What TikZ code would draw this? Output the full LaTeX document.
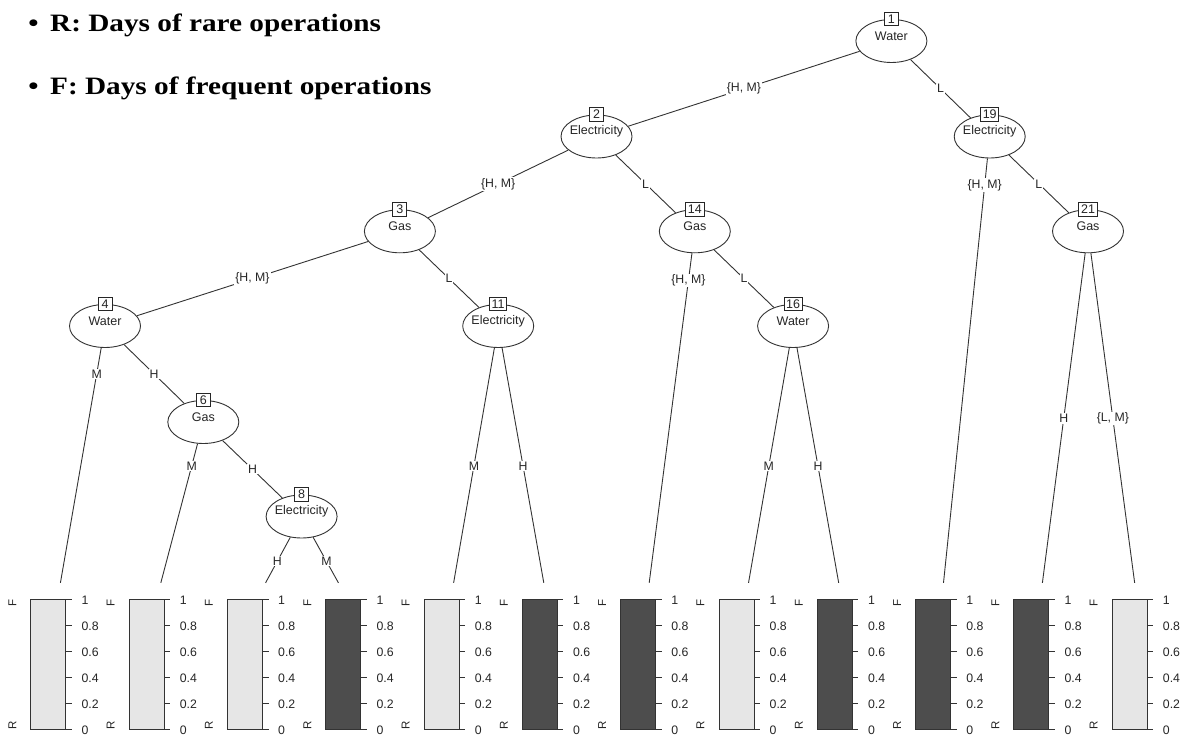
\documentclass[tikz,border=0pt]{standalone}
\usepackage{fontspec}
\setmainfont{Liberation Serif}
\setsansfont{Liberation Sans}
\usetikzlibrary{shapes.geometric,calc}

\newcommand\tnode[5]{%
  \node[ell] (#1) at (#2,#3) {};
  \node[vtxt] (#1t) at ([yshift=5pt]#1.center) {#4};
  \node[nbox] (#1b) at (#1.north) {#5};}
\newcommand\tedge[4]{%
  \draw[eline] (#1) -- (#2);
  \path (#1.center) -- (#2.center) node[elab,pos=#3] (#1-#2lab) {#4};}
\newcommand\leafpanel[3]{%
  \node[leafn] (#1) at (#2,606) {};
  \begin{scope}[shift={(#2,0)}]
    \draw[barln, fill=#3] (-25.5,599) rectangle (9.5,729);
    \foreach \yy/\lab [count=\i] in {599/1,625/0.8,651/0.6,677/0.4,703/0.2,729/0} {
      \draw[barln] (9.5,\yy) -- (15.5,\yy);
      \node[tlab] (#1-t\i) at (25,\yy+1) {\lab};
    }
    \node[rlab] (#1-F) at (-44,603) {F};
    \node[rlab] (#1-R) at (-44,725) {R};
  \end{scope}}

\begin{document}
\begin{tikzpicture}[x=1pt,y=-1pt,
  eline/.style={draw=black!80, line width=0.9pt},
  ell/.style={ellipse, draw=black!80, line width=0.9pt, fill=white, minimum width=71pt, minimum height=43pt, inner sep=0pt},
  vtxt/.style={font=\sffamily\fontsize{12.5}{14}\selectfont, text=black!85, inner sep=0pt},
  nbox/.style={draw=black!85, line width=0.9pt, fill=white, font=\sffamily\fontsize{12.5}{14}\selectfont, text=black!85, inner xsep=2.2pt, inner ysep=2pt, minimum width=14pt, text height=9pt, text depth=0.5pt},
  elab/.style={fill=white, font=\sffamily\fontsize{12.3}{14}\selectfont, inner xsep=1pt, inner ysep=1pt, text=black!85},
  leafn/.style={rectangle, minimum width=90pt, minimum height=46pt, inner sep=0pt},
  barln/.style={draw=black!80, line width=0.9pt},
  tlab/.style={anchor=west, inner sep=0pt, font=\sffamily\fontsize{12.3}{14}\selectfont, text=black!85},
  rlab/.style={rotate=90, inner sep=0pt, font=\sffamily\fontsize{11.5}{13}\selectfont, text=black!85},
  hdr/.style={inner sep=0pt, font=\bfseries\fontsize{25}{30}\selectfont}
]
\useasboundingbox[fill=white] (0,0) rectangle (1190,735);

% header
\node[hdr, anchor=base] (b1) at (33.4,31.7) {\scalebox{1.17}[1]{•}};
\node[hdr, anchor=base west] (h1) at (50,31.7) {\scalebox{1.17}[1]{R: Days of rare operations}};
\node[hdr, anchor=base] (b2) at (33.4,95) {\scalebox{1.17}[1]{•}};
\node[hdr, anchor=base west] (h2) at (50,95) {\scalebox{1.17}[1]{F: Days of frequent operations}};

% inner nodes
\tnode{n1}{891.4}{41}{Water}{1}
\tnode{n2}{596.5}{136.5}{Electricity}{2}
\tnode{n19}{989.7}{136.5}{Electricity}{19}
\tnode{n3}{399.9}{231.3}{Gas}{3}
\tnode{n14}{694.8}{231.3}{Gas}{14}
\tnode{n21}{1088}{231.3}{Gas}{21}
\tnode{n4}{105}{326}{Water}{4}
\tnode{n11}{498.2}{326}{Electricity}{11}
\tnode{n16}{793.1}{326}{Water}{16}
\tnode{n6}{203.3}{422}{Gas}{6}
\tnode{n8}{301.6}{516.5}{Electricity}{8}

% leaves
\definecolor{lightbar}{HTML}{E6E6E6}
\definecolor{darkbar}{HTML}{4D4D4D}
\leafpanel{l1}{56.4}{lightbar}
\leafpanel{l2}{154.7}{lightbar}
\leafpanel{l3}{253.0}{lightbar}
\leafpanel{l4}{351.3}{darkbar}
\leafpanel{l5}{449.6}{lightbar}
\leafpanel{l6}{547.9}{darkbar}
\leafpanel{l7}{646.2}{darkbar}
\leafpanel{l8}{744.5}{lightbar}
\leafpanel{l9}{842.8}{darkbar}
\leafpanel{l10}{941.1}{darkbar}
\leafpanel{l11}{1039.4}{darkbar}
\leafpanel{l12}{1137.7}{lightbar}

% edges
\tedge{n1}{n2}{0.5}{\{H, M\}}
\tedge{n1}{n19}{0.5}{L}
\tedge{n2}{n3}{0.5}{\{H, M\}}
\tedge{n2}{n14}{0.5}{L}
\tedge{n19}{l10}{0.103}{\{H, M\}}
\tedge{n19}{n21}{0.5}{L}
\tedge{n3}{n4}{0.5}{\{H, M\}}
\tedge{n3}{n11}{0.5}{L}
\tedge{n14}{l7}{0.131}{\{H, M\}}
\tedge{n14}{n16}{0.5}{L}
\tedge{n21}{l11}{0.5}{H}
\tedge{n21}{l12}{0.5}{\{L, M\}}
\tedge{n4}{l1}{0.171}{M}
\tedge{n4}{n6}{0.5}{H}
\tedge{n11}{l5}{0.5}{M}
\tedge{n11}{l6}{0.5}{H}
\tedge{n16}{l8}{0.5}{M}
\tedge{n16}{l9}{0.5}{H}
\tedge{n6}{l2}{0.24}{M}
\tedge{n6}{n8}{0.5}{H}
\tedge{n8}{l3}{0.5}{H}
\tedge{n8}{l4}{0.5}{M}
\end{tikzpicture}
\end{document}
